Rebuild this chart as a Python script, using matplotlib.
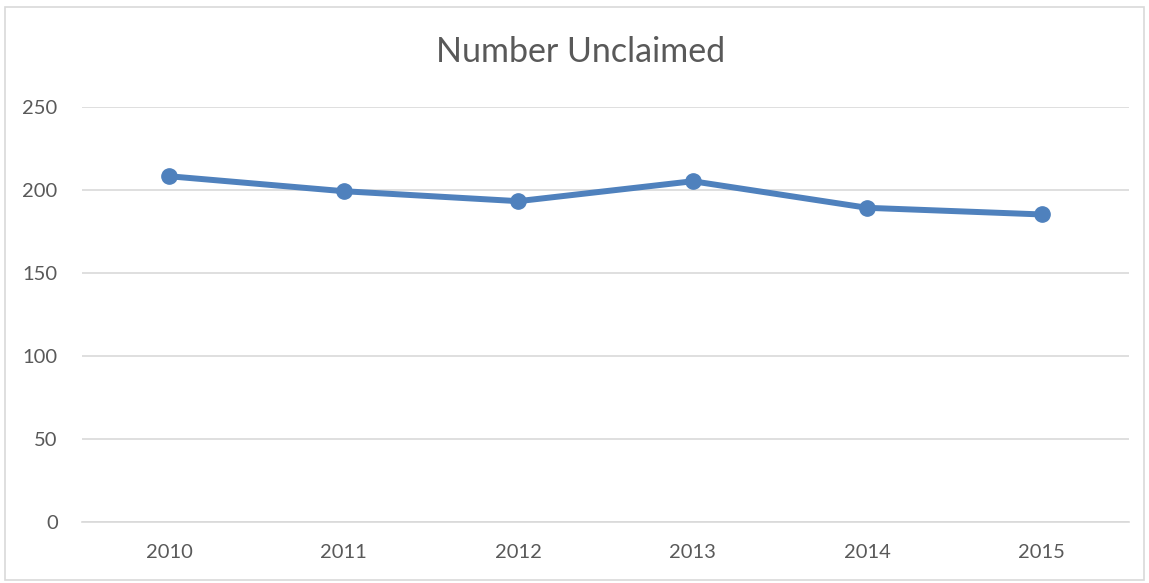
import matplotlib
matplotlib.use('Agg')
import matplotlib.pyplot as plt
from matplotlib.patches import Rectangle

years = ['2010', '2011', '2012', '2013', '2014', '2015']
unclaimed = [208, 199, 193, 205, 189, 185]
yticks = [0, 50, 100, 150, 200, 250]

plt.rcParams['font.family'] = ['Lato', 'DejaVu Sans']

fig = plt.figure(figsize=(11.49, 5.83), dpi=100)
# chart border
fig.patches.append(Rectangle((5 / 1149, 3 / 583), 1139 / 1149, 573 / 583,
                             transform=fig.transFigure, fill=False,
                             edgecolor='#d9d9d9', linewidth=1.2))

ax = fig.add_axes([82 / 1149, 1 - 521.7 / 583, 1047 / 1149, 415.2 / 583])
x = range(len(years))
ax.plot(x, unclaimed, color='#4f81bd', linewidth=4.3, marker='o',
        markersize=11, solid_capstyle='round', zorder=3)

ax.set_xlim(-0.5, len(years) - 0.5)
ax.set_ylim(0, 250)
ax.set_yticks(yticks)
ax.set_xticks(list(x))
ax.set_xticklabels(years)
ax.yaxis.grid(True, color='#d9d9d9', linewidth=1.2)
ax.set_axisbelow(True)
for s in ['top', 'right', 'left']:
    ax.spines[s].set_visible(False)
ax.spines['bottom'].set_color('#d9d9d9')
ax.spines['bottom'].set_linewidth(1.2)
ax.tick_params(axis='both', length=0, labelsize=14.5, colors='#595959')
ax.tick_params(axis='x', pad=16)
ax.tick_params(axis='y', pad=17.5)

fig.text(581 / 1149, 1 - 52 / 583, 'Number Unclaimed', ha='center', va='center',
         fontsize=24.5, color='#595959')

fig.savefig('out.png', dpi=100)
